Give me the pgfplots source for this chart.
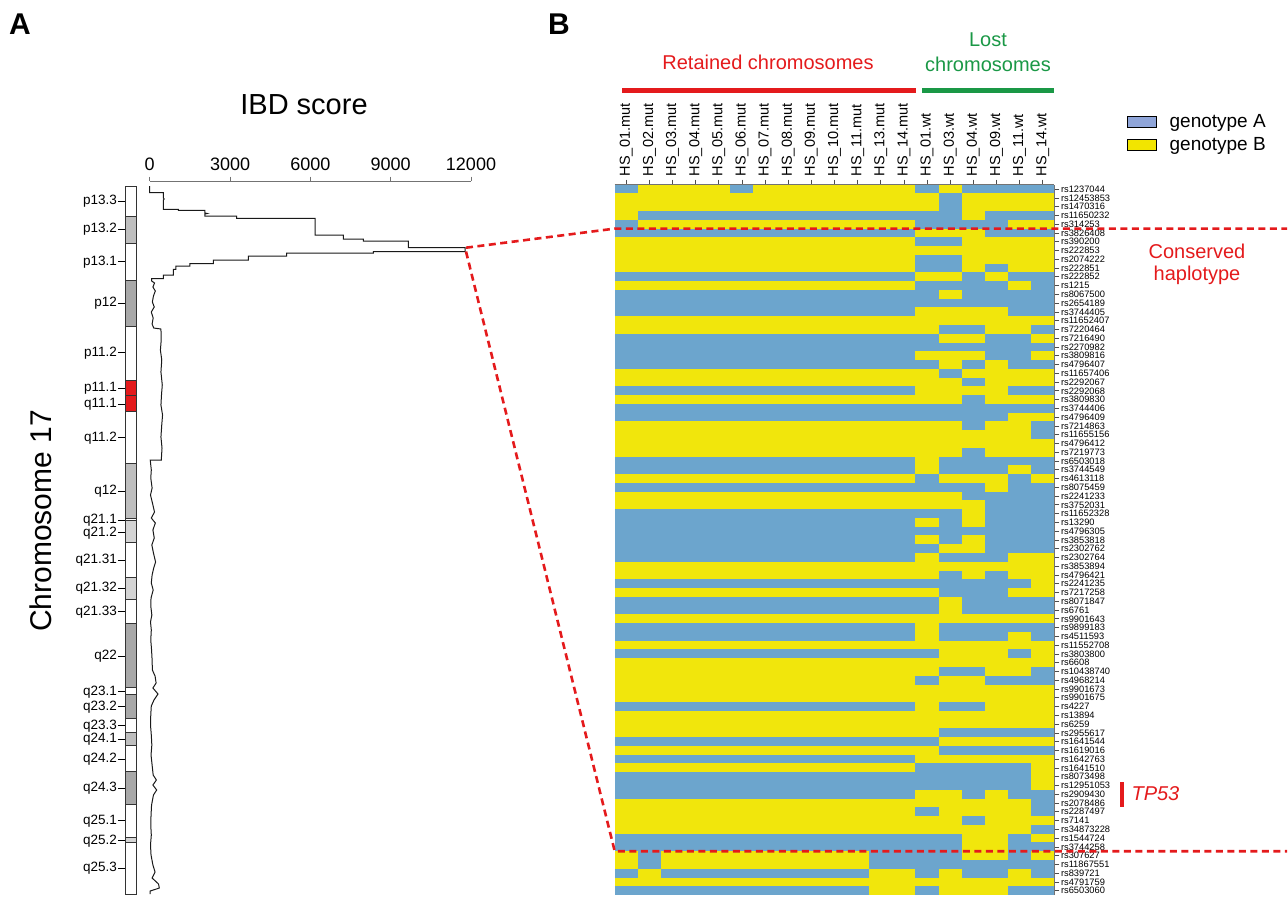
\documentclass[border=0pt]{standalone}
\usepackage{fontspec}
\setmainfont{Liberation Sans}
\usepackage{pgfplots}
\usepackage{pgfplotstable}
\pgfplotsset{compat=1.18}
\pgfplotsset{/pgf/number format/assume math mode=true}
\definecolor{genA}{RGB}{108,165,205}
\definecolor{genB}{RGB}{241,230,12}
\definecolor{legA}{RGB}{143,165,217}
\definecolor{legB}{RGB}{242,229,0}
\definecolor{myred}{RGB}{228,26,28}
\definecolor{mygreen}{RGB}{26,152,70}
\definecolor{gdark}{RGB}{168,168,168}
\definecolor{gmid}{RGB}{190,190,190}
\definecolor{glight}{RGB}{212,212,212}
\pgfdeclareplotmark{cell}{\pgfpathrectangle{\pgfpoint{-11.64pt}{-4.44pt}}{\pgfpoint{23.28pt}{8.88pt}}\pgfusepathqfill}
\newcommand{\band}[3]{\addplot[fill=#3, draw=black!80, line width=0.9pt] coordinates {(0,-#1) (1,-#1) (1,-#2) (0,-#2) (0,-#1)};}
\newcommand{\fs}[1]{\fontsize{#1}{#1}\selectfont}

\pgfplotstableread{
c0 c1 c2 c3 c4 c5 c6 c7 c8 c9 c10 c11 c12 c13 c14 c15 c16 c17 c18
1 0 0 0 0 1 0 0 0 0 0 0 0 1 0 1 1 1 1
0 0 0 0 0 0 0 0 0 0 0 0 0 0 1 0 0 0 0
0 0 0 0 0 0 0 0 0 0 0 0 0 0 1 0 0 0 0
0 1 1 1 1 1 1 1 1 1 1 1 1 1 1 0 1 1 1
1 0 0 0 0 0 0 0 0 0 0 0 0 1 1 1 1 0 0
1 1 1 1 1 1 1 1 1 1 1 1 1 0 0 0 1 1 1
0 0 0 0 0 0 0 0 0 0 0 0 0 1 1 0 0 0 0
0 0 0 0 0 0 0 0 0 0 0 0 0 0 0 0 0 0 0
0 0 0 0 0 0 0 0 0 0 0 0 0 1 1 0 0 0 0
0 0 0 0 0 0 0 0 0 0 0 0 0 1 1 0 1 0 0
1 1 1 1 1 1 1 1 1 1 1 1 1 0 0 1 0 1 1
0 0 0 0 0 0 0 0 0 0 0 0 0 1 1 1 1 0 1
1 1 1 1 1 1 1 1 1 1 1 1 1 1 0 1 1 1 1
1 1 1 1 1 1 1 1 1 1 1 1 1 1 1 1 1 1 1
1 1 1 1 1 1 1 1 1 1 1 1 1 0 0 0 0 1 1
0 0 0 0 0 0 0 0 0 0 0 0 0 0 0 0 0 0 0
0 0 0 0 0 0 0 0 0 0 0 0 0 0 1 1 0 0 1
1 1 1 1 1 1 1 1 1 1 1 1 1 1 0 0 1 1 0
1 1 1 1 1 1 1 1 1 1 1 1 1 1 1 1 1 1 1
1 1 1 1 1 1 1 1 1 1 1 1 1 0 0 0 1 1 0
1 1 1 1 1 1 1 1 1 1 1 1 1 1 0 1 0 1 1
0 0 0 0 0 0 0 0 0 0 0 0 0 0 1 0 0 0 0
0 0 0 0 0 0 0 0 0 0 0 0 0 0 0 1 0 0 0
1 1 1 1 1 1 1 1 1 1 1 1 1 0 0 0 0 1 1
0 0 0 0 0 0 0 0 0 0 0 0 0 0 0 1 0 0 0
1 1 1 1 1 1 1 1 1 1 1 1 1 1 1 1 1 1 1
1 1 1 1 1 1 1 1 1 1 1 1 1 1 1 1 1 0 0
0 0 0 0 0 0 0 0 0 0 0 0 0 0 0 1 0 0 1
0 0 0 0 0 0 0 0 0 0 0 0 0 0 0 0 0 0 1
0 0 0 0 0 0 0 0 0 0 0 0 0 0 0 0 0 0 0
0 0 0 0 0 0 0 0 0 0 0 0 0 0 0 1 0 0 0
1 1 1 1 1 1 1 1 1 1 1 1 1 0 1 1 1 1 1
1 1 1 1 1 1 1 1 1 1 1 1 1 0 1 1 1 0 1
0 0 0 0 0 0 0 0 0 0 0 0 0 1 0 0 0 1 0
1 1 1 1 1 1 1 1 1 1 1 1 1 1 1 1 0 1 1
0 0 0 0 0 0 0 0 0 0 0 0 0 0 0 1 1 1 1
0 0 0 0 0 0 0 0 0 0 0 0 0 0 0 0 1 1 1
1 1 1 1 1 1 1 1 1 1 1 1 1 1 1 0 1 1 1
1 1 1 1 1 1 1 1 1 1 1 1 1 0 1 0 1 1 1
1 1 1 1 1 1 1 1 1 1 1 1 1 1 1 1 1 1 1
1 1 1 1 1 1 1 1 1 1 1 1 1 0 1 0 1 1 1
1 1 1 1 1 1 1 1 1 1 1 1 1 1 0 0 1 1 1
1 1 1 1 1 1 1 1 1 1 1 1 1 0 1 1 1 0 0
0 0 0 0 0 0 0 0 0 0 0 0 0 0 0 0 0 0 0
0 0 0 0 0 0 0 0 0 0 0 0 0 0 1 0 1 0 0
1 1 1 1 1 1 1 1 1 1 1 1 1 1 1 1 1 1 0
0 0 0 0 0 0 0 0 0 0 0 0 0 0 1 1 1 0 0
1 1 1 1 1 1 1 1 1 1 1 1 1 1 0 1 1 1 1
1 1 1 1 1 1 1 1 1 1 1 1 1 1 0 1 1 1 1
0 0 0 0 0 0 0 0 0 0 0 0 0 0 0 0 0 0 0
1 1 1 1 1 1 1 1 1 1 1 1 1 0 1 1 1 1 1
1 1 1 1 1 1 1 1 1 1 1 1 1 0 1 1 1 0 1
0 0 0 0 0 0 0 0 0 0 0 0 0 0 0 0 0 0 0
1 1 1 1 1 1 1 1 1 1 1 1 1 1 0 0 0 1 0
0 0 0 0 0 0 0 0 0 0 0 0 0 0 0 0 0 0 0
0 0 0 0 0 0 0 0 0 0 0 0 0 0 1 1 0 0 1
0 0 0 0 0 0 0 0 0 0 0 0 0 1 0 0 1 1 1
0 0 0 0 0 0 0 0 0 0 0 0 0 0 0 0 0 0 0
0 0 0 0 0 0 0 0 0 0 0 0 0 0 0 0 0 0 0
1 1 1 1 1 1 1 1 1 1 1 1 1 0 1 1 0 0 0
0 0 0 0 0 0 0 0 0 0 0 0 0 0 0 0 0 0 0
0 0 0 0 0 0 0 0 0 0 0 0 0 0 0 0 0 0 0
0 0 0 0 0 0 0 0 0 0 0 0 0 0 1 1 1 1 1
1 1 1 1 1 1 1 1 1 1 1 1 1 1 0 0 0 0 0
0 0 0 0 0 0 0 0 0 0 0 0 0 0 1 1 1 1 1
1 1 1 1 1 1 1 1 1 1 1 1 1 0 0 0 0 0 0
0 0 0 0 0 0 0 0 0 0 0 0 0 1 1 1 1 1 0
1 1 1 1 1 1 1 1 1 1 1 1 1 1 1 1 1 1 0
1 1 1 1 1 1 1 1 1 1 1 1 1 1 1 1 1 1 0
1 1 1 1 1 1 1 1 1 1 1 1 1 0 0 1 0 1 1
0 0 0 0 0 0 0 0 0 0 0 0 0 0 0 0 0 0 1
0 0 0 0 0 0 0 0 0 0 0 0 0 1 0 0 0 0 1
0 0 0 0 0 0 0 0 0 0 0 0 0 0 0 1 0 0 0
0 0 0 0 0 0 0 0 0 0 0 0 0 0 0 0 0 0 1
1 1 1 1 1 1 1 1 1 1 1 1 1 1 1 0 0 1 0
1 1 1 1 1 1 1 1 1 1 1 1 1 1 1 0 0 1 1
0 1 0 0 0 0 0 0 0 0 0 1 1 1 1 0 0 1 0
0 1 0 0 0 0 0 0 0 0 0 1 1 1 1 1 1 1 1
1 0 1 1 1 1 1 1 1 1 1 0 0 1 0 1 1 0 1
0 0 0 0 0 0 0 0 0 0 0 0 0 0 0 0 0 0 0
1 1 1 1 1 1 1 1 1 1 1 0 0 1 0 0 0 1 1
}\geno

\begin{document}
\begin{tikzpicture}
\useasboundingbox (0pt,0pt) rectangle (1288pt,-898pt);

% ---------------- ideogram ----------------
\begin{axis}[at={(125pt,-181pt)}, anchor=north west, scale only axis,
  width=11.7pt, height=714pt, xmin=0, xmax=1, ymin=-895, ymax=-181,
  axis line style={draw=none}, xtick=\empty, clip=false,
  ytick={-201,-229,-261.7,-303.3,-352.7,-388.3,-404,-437.7,-491,-520,-532.7,-560,-588.3,-611.7,-656,-691.7,-706.7,-725.7,-739,-759,-788.3,-820.7,-840.7,-868.3},
  yticklabels={p13.3,p13.2,p13.1,p12,p11.2,p11.1,q11.1,q11.2,q12,q21.1,q21.2,q21.31,q21.32,q21.33,q22,q23.1,q23.2,q23.3,q24.1,q24.2,q24.3,q25.1,q25.2,q25.3},
  ytick pos=left, tick align=outside, major tick length=7pt,
  tick style={black, line width=0.9pt},
  yticklabel style={font=\fs{13.5}, inner sep=1pt}]
\band{186.7}{216}{white}
\band{216}{243.3}{gmid}
\band{243.3}{280}{white}
\band{280}{326}{gdark}
\band{326}{380}{white}
\band{380}{395.7}{myred}
\band{395.7}{411.7}{myred}
\band{411.7}{463.3}{white}
\band{463.3}{518.3}{gmid}
\band{518.3}{520.7}{white}
\band{520.7}{542.7}{glight}
\band{542.7}{577.3}{white}
\band{577.3}{599.3}{glight}
\band{599.3}{623.3}{white}
\band{623.3}{687.7}{gdark}
\band{687.7}{694.3}{white}
\band{694.3}{718.3}{gdark}
\band{718.3}{732.3}{white}
\band{732.3}{745.7}{gmid}
\band{745.7}{771}{white}
\band{771}{804}{gdark}
\band{804}{837.7}{white}
\band{837.7}{842.7}{glight}
\band{842.7}{894.3}{white}
\end{axis}

% ---------------- IBD score ----------------
\begin{axis}[at={(149.7pt,-181pt)}, anchor=north west, scale only axis,
  width=321.3pt, height=714pt, xmin=0, xmax=12000, ymin=-895, ymax=-181,
  axis x line=top, axis y line=none, axis line style={-, draw=black!55, line width=0.7pt},
  xtick={0,3000,6000,9000,12000}, ytick=\empty, scaled x ticks=false,
  xticklabel={\pgfmathprintnumber[fixed,precision=0,1000 sep={}]{\tick}},
  tick align=outside, major tick length=4.5pt, tick style={draw=black!55, line width=0.7pt},
  xticklabel style={font=\fs{18}, yshift=2pt}, clip=false]
\addplot[black!90, line width=1pt] coordinates {
(0,-186) (0,-192.7) (510,-192.7) (510,-198) (540,-199) (510,-200) (510,-209.3)
(1070,-209.3) (1070,-210.3) (2065,-210.3) (2065,-213) (2150,-213.5) (2065,-214) (2065,-216)
(3250,-216) (3250,-218.3) (6175,-218.3) (6175,-235) (7230,-235) (7230,-239) (7980,-239)
(7980,-241) (9660,-241) (9660,-247.7) (11780,-247.7) (11780,-251.5) (8350,-251.5)
(8350,-253) (5117,-253) (5117,-256) (3683,-256) (3683,-260) (2377,-260) (2377,-263.5)
(1505,-263.5) (1505,-266) (982,-266) (982,-269.3) (882,-269.3) (882,-275) (510,-275)
(510,-278.7) (75,-278.7) (75,-281) (180,-283) (120,-287) (210,-291) (140,-296) (100,-302)
(170,-307) (60,-312) (130,-318) (90,-324) (150,-328) (420,-329) (430,-340) (400,-350)
(450,-360) (420,-372) (470,-385) (440,-395) (420,-405) (480,-415) (450,-425) (420,-437)
(460,-448) (440,-457) (440,-460) (20,-460) (60,-470) (40,-478) (90,-488) (30,-495)
(120,-505) (180,-512) (60,-518) (210,-523) (120,-530) (170,-538) (80,-545) (140,-553)
(220,-562) (150,-568) (90,-575) (60,-583) (130,-590) (50,-598) (40,-606) (80,-615)
(30,-622) (60,-630) (40,-640) (70,-650) (90,-660) (100,-670) (200,-676) (240,-683)
(120,-688) (310,-694) (160,-700) (60,-706) (40,-715) (30,-725) (60,-735) (80,-745)
(50,-755) (90,-765) (130,-775) (250,-780) (120,-785) (260,-790) (140,-795) (70,-805)
(50,-815) (40,-825) (60,-835) (30,-845) (50,-855) (120,-865) (200,-872) (90,-878)
(330,-884) (360,-888) (20,-891) (20,-894)};
\end{axis}

% ---------------- heatmap ----------------
\begin{axis}[at={(614.7pt,-184.7pt)}, anchor=north west, scale only axis,
  width=439.6pt, height=710.4pt, xmin=-0.5, xmax=18.5, ymin=-80.5, ymax=0.5,
  axis x line=top, axis y line=right,
  axis line style={-, draw=black!55, line width=0.7pt},
  tick align=outside, major tick length=5pt, tick style={draw=black!70, line width=0.7pt},
  xtick={0,...,18},
  xticklabels={HS\_01.mut,HS\_02.mut,HS\_03.mut,HS\_04.mut,HS\_05.mut,HS\_06.mut,HS\_07.mut,HS\_08.mut,HS\_09.mut,HS\_10.mut,HS\_11.mut,HS\_13.mut,HS\_14.mut,HS\_01.wt,HS\_03.wt,HS\_04.wt,HS\_09.wt,HS\_11.wt,HS\_14.wt},
  xticklabel style={rotate=90, anchor=west, font=\fs{14.5}},
  ytick={0,-1,...,-80},
  yticklabels={rs1237044,rs12453853,rs1470316,rs11650232,rs314253,rs3826408,rs390200,rs222853,rs2074222,rs222851,rs222852,rs1215,rs8067500,rs2654189,rs3744405,rs11652407,rs7220464,rs7216490,rs2270982,rs3809816,rs4796407,rs11657406,rs2292067,rs2292068,rs3809830,rs3744406,rs4796409,rs7214863,rs11655156,rs4796412,rs7219773,rs6503018,rs3744549,rs4613118,rs8075459,rs2241233,rs3752031,rs11652328,rs13290,rs4796305,rs3853818,rs2302762,rs2302764,rs3853894,rs4796421,rs2241235,rs7217258,rs8071847,rs6761,rs9901643,rs9899183,rs4511593,rs11552708,rs3803800,rs6608,rs10438740,rs4968214,rs9901673,rs9901675,rs4227,rs13894,rs6259,rs2955617,rs1641544,rs1619016,rs1642763,rs1641510,rs8073498,rs12951053,rs2909430,rs2078486,rs2287497,rs7141,rs34873228,rs1544724,rs3744258,rs307627,rs11867551,rs839721,rs4791759,rs6503060},
  yticklabel style={font=\fs{9.3}, anchor=west, inner sep=1.5pt},
  legend style={at={(1.1654,1.1023)}, anchor=north west, draw=none, fill=none,
    font=\fs{19}, row sep=5pt, inner sep=0pt, nodes={inner xsep=7pt},
    /tikz/every odd column/.append style={column sep=6pt}},
  legend cell align=left,
  legend image code/.code={\fill[#1] (0pt,-5.5pt) rectangle (29pt,5.5pt);}]
\pgfplotsinvokeforeach{0,...,18}{
  \addplot[scatter, only marks, mark=cell, forget plot,
    scatter src=explicit symbolic,
    scatter/classes={0={fill=genB}, 1={fill=genA}}]
    table[x expr=#1, y expr=-\coordindex, meta=c#1] {\geno};
}
\addlegendimage{fill=legA}
\addlegendentry{genotype A}
\addlegendimage{fill=legB}
\addlegendentry{genotype B}
\end{axis}

% ---------------- annotations ----------------
\node[font=\fs{30}\bfseries] at (20pt,-24pt) {A};
\node[font=\fs{30}\bfseries] at (559pt,-24pt) {B};
\node[font=\fs{29}] at (304pt,-105pt) {IBD score};
\node[rotate=90, font=\fs{30}] at (41pt,-521pt) {Chromosome 17};

\node[font=\fs{20}, text=myred] at (768pt,-62pt) {Retained chromosomes};
\node[font=\fs{20}, text=mygreen] at (988pt,-40pt) {Lost};
\node[font=\fs{20}, text=mygreen] at (988pt,-64pt) {chromosomes};
\draw[myred, line width=5pt] (622pt,-90pt) -- (916pt,-90pt);
\draw[mygreen, line width=5pt] (922pt,-90pt) -- (1054pt,-90pt);

\node[font=\fs{20}, text=myred, align=center] at (1197pt,-264pt) {Conserved\\[2pt]haplotype};
\draw[myred, line width=4pt] (1122pt,-782pt) -- (1122pt,-807pt);
\node[font=\fs{20}\itshape, text=myred, anchor=west] at (1128pt,-794pt) {TP53};

\draw[myred, line width=2.6pt, dash pattern=on 7pt off 4.5pt] (466pt,-247.7pt) -- (614.7pt,-228.6pt) -- (1287pt,-228.6pt);
\draw[myred, line width=2.6pt, dash pattern=on 7pt off 4.5pt] (466pt,-251.5pt) -- (614.7pt,-851.2pt) -- (1287pt,-851.2pt);
\end{tikzpicture}
\end{document}
